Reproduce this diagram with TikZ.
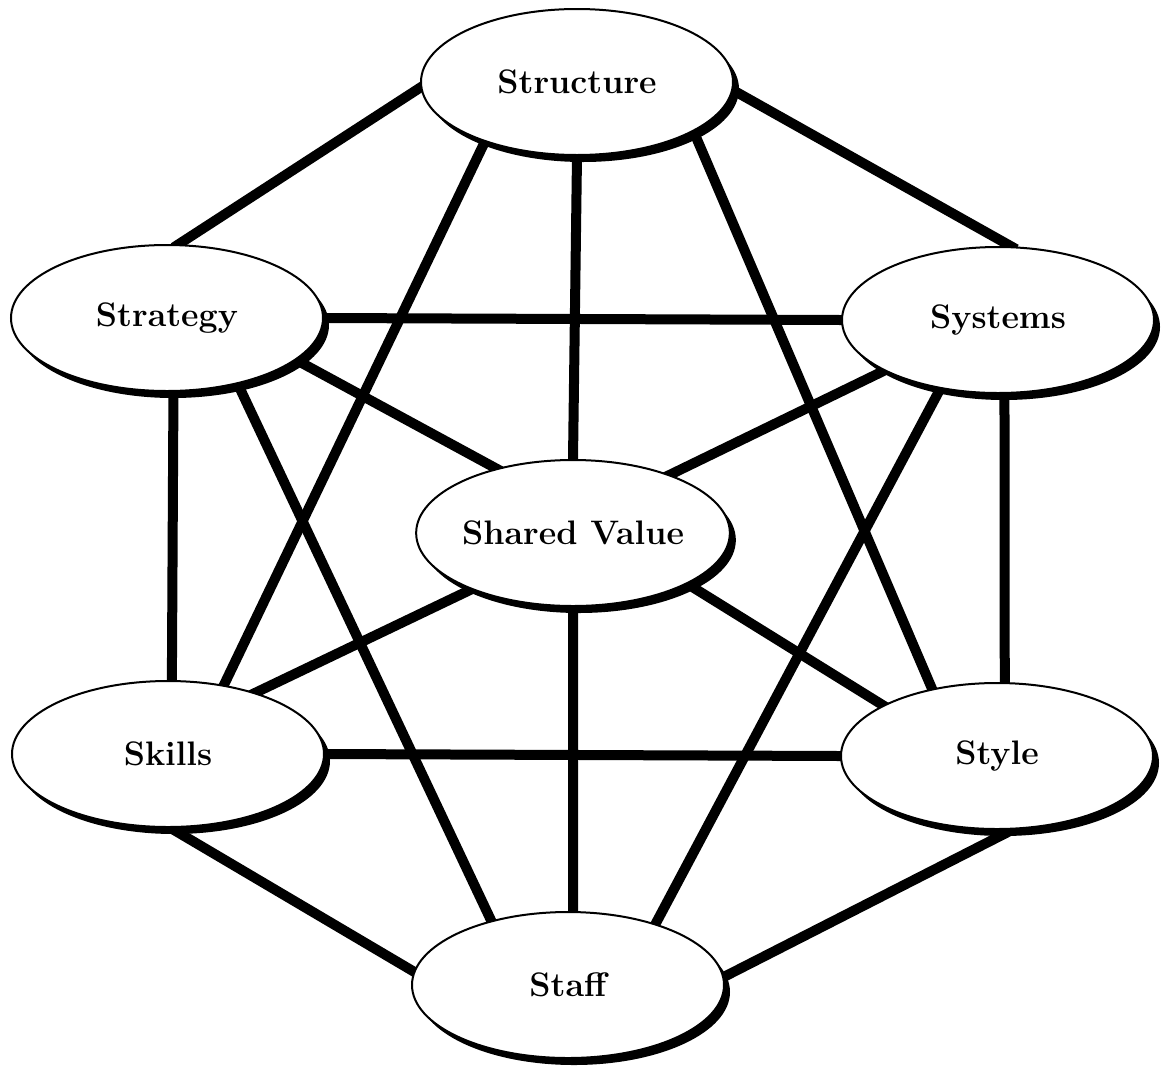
\documentclass[tikz,border=0pt]{standalone}
\usepackage{tikz}
\usetikzlibrary{shapes.geometric,shadows,backgrounds}

\begin{document}
\begin{tikzpicture}[x=0.5pt,y=-0.5pt]

\tikzstyle{factor}=[
  ellipse,
  draw,
  line width=1pt,
  fill=white,
  minimum width=156pt,
  minimum height=73pt,
  inner sep=0pt,
  font=\fontsize{17}{20}\selectfont\bfseries,
  drop shadow={shadow xshift=3pt,shadow yshift=-3.5pt,fill=black,opacity=1}
]
\tikzstyle{link}=[line width=5pt, shorten <=-3pt, shorten >=-3pt]

\useasboundingbox (0,0) rectangle (1161,1066);

\node[factor] (structure) at (577,82) {Structure};
\node[factor] (strategy) at (167,318) {Strategy};
\node[factor] (systems) at (998,320) {Systems};
\node[factor] (shared) at (573,533) {Shared Value};
\node[factor] (skills) at (168,754) {Skills};
\node[factor] (style) at (997,756) {Style};
\node[factor] (staff) at (568,985) {Staff};

% Links behind the ellipses
\begin{scope}[on background layer]
\draw[link] (structure.182) -- (strategy.81);
\draw[link] (structure.357) -- (systems.80);
\draw[link] (structure.213) -- (skills.51);
\draw[link] (structure.337) -- (style.134);
\draw[link] (structure.south) -- (shared.north);
\draw[link] (strategy.east) -- (systems.west);
\draw[link] (strategy.342) -- (shared.140);
\draw[link] (strategy.275) -- (skills.87);
\draw[link] (strategy.317) -- (staff.140);
\draw[link] (systems.204) -- (shared.31);
\draw[link] (systems.275) -- (style.84);
\draw[link] (systems.230) -- (staff.35);
\draw[link] (shared.209) -- (skills.35);
\draw[link] (shared.336) -- (style.156);
\draw[link] (shared.south) -- (staff.86);
\draw[link] (skills.east) -- (style.west);
\draw[link] (skills.272) -- (staff.175);
\draw[link] (style.282) -- (staff.3);
\end{scope}

\end{tikzpicture}
\end{document}
